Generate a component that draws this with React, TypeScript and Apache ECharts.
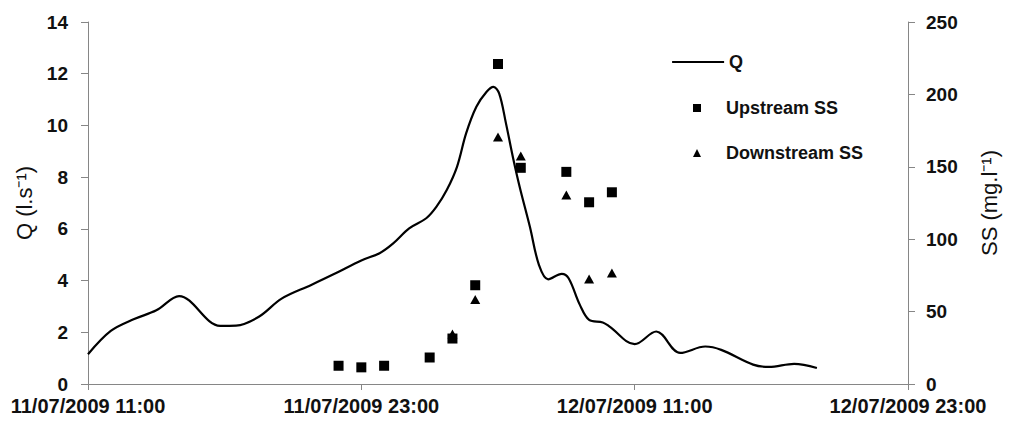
import React, { useEffect, useRef } from "react";
import * as echarts from "echarts";

// Hours since 11/07/2009 11:00
const xTickLabels = ["11/07/2009 11:00", "11/07/2009 23:00", "12/07/2009 11:00", "12/07/2009 23:00"];

const qHours = [0, 1, 2, 3, 4, 5.8, 6.5, 7.5, 8.5, 9.8, 10.8, 12, 12.8, 13.4, 14.1, 14.85, 15.3, 15.75, 16.2, 16.6, 17.05, 17.5, 17.8, 18.05, 18.35, 18.65, 18.95, 19.4, 19.8, 20.2, 20.8, 21.1, 21.6, 22.0, 22.6, 22.9, 24.0, 24.95, 26.0, 27.1, 27.8, 29.2, 29.9, 31.0, 32.0];
const qValues = [1.15, 2.05, 2.5, 2.85, 3.4, 2.25, 2.26, 2.6, 3.3, 3.83, 4.25, 4.78, 5.06, 5.44, 6.02, 6.41, 6.86, 7.5, 8.4, 9.69, 10.72, 11.3, 11.49, 11.24, 10.08, 8.79, 7.63, 6.08, 4.6, 4.05, 4.26, 4.09, 3.05, 2.48, 2.38, 2.22, 1.54, 2.03, 1.2, 1.45, 1.32, 0.75, 0.66, 0.78, 0.62];

const upHours = [11, 12, 13, 15, 16, 17, 18, 19, 21, 22, 23];
const upValues = [12.6, 11.5, 12.6, 18.3, 31.4, 68.2, 221, 149.3, 146.5, 125.5, 132.4];

const downHours = [16, 17, 18, 19, 21, 22, 23];
const downValues = [34.5, 58.4, 170.6, 157.5, 130.5, 72.6, 76.7];

const FONT = "'Liberation Sans', Arial, sans-serif";
const AXIS_GRAY = "#868686";

export default function App() {
  const ref = useRef<HTMLDivElement>(null);
  useEffect(() => {
    if (!ref.current) return;
    const chart = echarts.init(ref.current, null, { renderer: "svg" });
    const labelStyle = { color: "#111", fontFamily: FONT, fontSize: 19, fontWeight: "bold" as const };
    const legendText = { color: "#111", fontFamily: FONT, fontSize: 18, fontWeight: "bold" as const };
    const nameStyle = { color: "#111", fontFamily: FONT, fontSize: 22, fontWeight: "normal" as const };
    chart.setOption({
      animation: false,
      backgroundColor: "#ffffff",
      grid: { left: 88, right: 106, top: 22, bottom: 44, containLabel: false },
      xAxis: {
        type: "value",
        min: 0,
        max: 36,
        interval: 12,
        axisLine: { show: true, lineStyle: { color: AXIS_GRAY, width: 1 } },
        axisTick: { show: true, length: 6, lineStyle: { color: AXIS_GRAY } },
        splitLine: { show: false },
        axisLabel: {
          ...labelStyle,
          fontSize: 20,
          margin: 12,
          showMinLabel: true,
          showMaxLabel: true,
          hideOverlap: false,
          formatter: (v: number) => xTickLabels[Math.round(v / 12)] ?? "",
        },
      },
      yAxis: [
        {
          type: "value",
          min: 0,
          max: 14,
          interval: 2,
          position: "left",
          name: "Q (l.s⁻¹)",
          nameLocation: "middle",
          nameRotate: 90,
          nameGap: 50,
          nameTextStyle: { ...nameStyle },
          axisLine: { show: true, lineStyle: { color: AXIS_GRAY, width: 1 } },
          axisTick: { show: true, length: 7, lineStyle: { color: AXIS_GRAY } },
          splitLine: { show: false },
          axisLabel: { ...labelStyle, margin: 20 },
        },
        {
          type: "value",
          min: 0,
          max: 250,
          interval: 50,
          position: "right",
          name: "SS (mg.l⁻¹)",
          nameLocation: "middle",
          nameRotate: 90,
          nameGap: 70,
          nameTextStyle: { ...nameStyle },
          axisLine: { show: true, lineStyle: { color: AXIS_GRAY, width: 1 } },
          axisTick: { show: true, length: 7, lineStyle: { color: AXIS_GRAY } },
          splitLine: { show: false },
          axisLabel: { ...labelStyle, margin: 18 },
        },
      ],
      legend: [
        {
          data: ["Q"],
          left: 666,
          top: 48,
          itemWidth: 52,
          itemHeight: 14,
          itemGap: 0,
          itemStyle: { opacity: 0 },
          lineStyle: { color: "#000", width: 2.2 },
          textStyle: { ...legendText },
        },
        {
          data: [{ name: "Upstream SS", icon: "rect" }],
          left: 688,
          top: 94,
          itemWidth: 8,
          itemHeight: 8,
          itemStyle: { color: "#000", opacity: 1 },
          textStyle: { ...legendText, padding: [0, 0, 0, 20] },
        },
        {
          data: [{ name: "Downstream SS", icon: "triangle" }],
          left: 688,
          top: 139,
          itemWidth: 8,
          itemHeight: 8,
          itemStyle: { color: "#000", opacity: 1 },
          textStyle: { ...legendText, padding: [0, 0, 0, 20] },
        },
      ],
      series: [
        {
          name: "Q",
          type: "line",
          yAxisIndex: 0,
          smooth: 0.35,
          symbol: "none",
          showSymbol: false,
          lineStyle: { color: "#000", width: 2.2 },
          itemStyle: { color: "#000" },
          data: qHours.map((h, i) => [h, qValues[i]]),
          z: 2,
        },
        {
          name: "Upstream SS",
          type: "scatter",
          yAxisIndex: 1,
          symbol: "rect",
          symbolSize: 10,
          itemStyle: { color: "#000", opacity: 1 },
          data: upHours.map((h, i) => [h, upValues[i]]),
          z: 3,
        },
        {
          name: "Downstream SS",
          type: "scatter",
          yAxisIndex: 1,
          symbol: "triangle",
          symbolSize: [10, 9],
          itemStyle: { color: "#000", opacity: 1 },
          data: downHours.map((h, i) => [h, downValues[i]]),
          z: 4,
        },
      ],
    });
    return () => chart.dispose();
  }, []);
  return (
    <div
      ref={ref}
      style={{ position: "absolute", left: 0, top: 0, width: 1014, height: 428, background: "#fff" }}
    />
  );
}
